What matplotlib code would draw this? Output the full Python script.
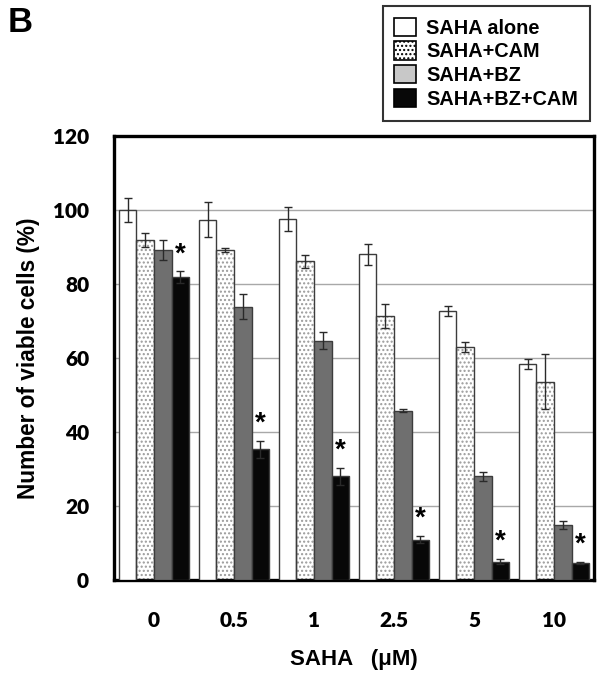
import matplotlib
matplotlib.use("Agg")
import matplotlib.pyplot as plt
from matplotlib.patches import Patch
import numpy as np

# SAHA concentrations (uM) and treatment groups
doses = ["0", "0.5", "1", "2.5", "5", "10"]
series = ["SAHA alone", "SAHA+CAM", "SAHA+BZ", "SAHA+BZ+CAM"]

saha_alone = [100.0, 97.4, 97.6, 88.0, 72.7, 58.4]
saha_alone_err = [3.2, 4.7, 3.2, 2.8, 1.4, 1.3]
saha_cam = [91.9, 89.1, 86.1, 71.3, 62.9, 53.6]
saha_cam_err = [1.9, 0.5, 1.7, 3.3, 1.4, 7.5]
saha_bz = [89.3, 73.9, 64.7, 45.8, 28.0, 14.9]
saha_bz_err = [2.7, 3.3, 2.4, 0.4, 1.2, 1.0]
saha_bz_cam = [81.9, 35.3, 28.0, 10.9, 5.0, 4.6]
saha_bz_cam_err = [1.5, 2.4, 2.4, 1.0, 0.7, 0.3]

values = [saha_alone, saha_cam, saha_bz, saha_bz_cam]
errors = [saha_alone_err, saha_cam_err, saha_bz_err, saha_bz_cam_err]

arial = "Liberation Sans"
calibri = "Lato"

fig = plt.figure(figsize=(6.02, 6.78), dpi=100)
ax = fig.add_axes([114 / 602, 1 - 580 / 678, 480 / 602, 444 / 678])

x = np.arange(len(doses))
w = 0.219
faces = ["white", "white", "#6f6f6f", "#080808"]
edge = "#3c3c3c"

for i, (vals, errs) in enumerate(zip(values, errors)):
    pos = x + (i - 1.5) * w
    if i == 1:
        # dotted fill, then outline on top
        ax.bar(pos, vals, w, color="white", hatch="....", edgecolor="#9a9a9a",
               linewidth=0, zorder=2)
        ax.bar(pos, vals, w, fill=False, edgecolor=edge, linewidth=1.0, zorder=3)
    else:
        ax.bar(pos, vals, w, color=faces[i], edgecolor=edge, linewidth=1.0, zorder=3)
    ax.errorbar(pos, vals, yerr=errs, fmt="none", ecolor="#2a2a2a",
                elinewidth=1.0, capsize=3, capthick=1.0, zorder=4)

# significance stars above the SAHA+BZ+CAM bars
star_x = x + 1.5 * w
for xs, v, e in zip(star_x, saha_bz_cam, saha_bz_cam_err):
    ax.text(xs, v + e + 4.6, "*", ha="center", va="center", fontsize=20,
            fontweight="bold", family=arial, zorder=5)

ax.set_xlim(-0.5, len(doses) - 0.5)
ax.set_ylim(0, 120)
ax.set_yticks(np.arange(0, 121, 20))
ax.set_yticklabels([str(t) for t in range(0, 121, 20)], fontsize=15,
                   fontweight="heavy", family=calibri)
ax.set_xticks(x)
ax.set_xticklabels(doses, fontsize=15, fontweight="heavy", family=calibri)
ax.tick_params(axis="y", length=0, pad=18)
ax.tick_params(axis="x", length=0, pad=22)

for yv in range(20, 120, 20):
    ax.axhline(yv, color="#a8a8a8", linewidth=1.0, zorder=1)

for sp in ax.spines.values():
    sp.set_linewidth(2.4)
    sp.set_color("black")

ax.set_ylabel("Number of viable cells (%)", fontsize=16.3, fontweight="bold",
              family=arial, labelpad=9)
ax.set_xlabel("SAHA   (\u03bcM)", fontsize=16, fontweight="bold",
              family=arial, labelpad=14)

fig.text(8 / 602, 1 - 23 / 678, "B", fontsize=25, fontweight="bold",
         family=arial, va="center", ha="left")

handles = [
    Patch(facecolor="white", edgecolor="black", linewidth=1.2),
    Patch(facecolor="white", edgecolor="black", hatch="....", linewidth=1.2),
    Patch(facecolor="#c8c8c8", edgecolor="black", linewidth=1.2),
    Patch(facecolor="#080808", edgecolor="black", linewidth=1.2),
]
leg = fig.legend(handles, series, loc="upper right",
                 bbox_to_anchor=(590 / 602, 1 - 6 / 678),
                 prop={"family": arial, "weight": "bold", "size": 14.3},
                 frameon=True, fancybox=False, edgecolor="black",
                 handlelength=1.1, handleheight=1.05, labelspacing=0.18,
                 handletextpad=0.5, borderpad=0.6, borderaxespad=0)
leg.get_frame().set_linewidth(1.5)

fig.savefig("out.png", dpi=100)
